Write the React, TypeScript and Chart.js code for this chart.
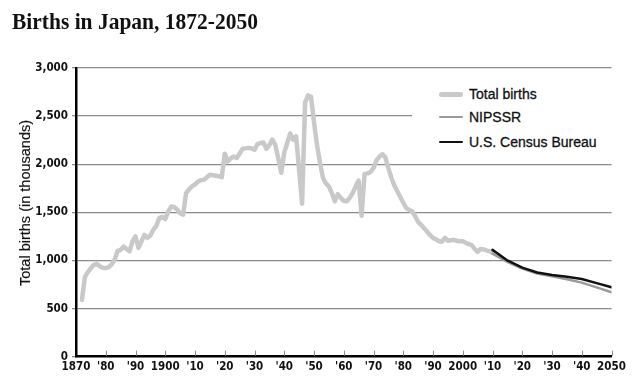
import React, { useEffect, useRef } from "react";
import { Chart, registerables } from "chart.js";

Chart.register(...registerables);

// ---- data (thousands of births) ----
const totalYears = [
  1872, 1873, 1874, 1875, 1876, 1877, 1878, 1879, 1880, 1881, 1882, 1883, 1884, 1885, 1886, 1887, 1888, 1889,
  1890, 1891, 1892, 1893, 1894, 1895, 1896, 1897, 1898, 1899, 1900, 1901, 1902, 1903, 1904, 1905, 1906, 1907,
  1908, 1909, 1910, 1911, 1912, 1913, 1914, 1915, 1916, 1917, 1918, 1919, 1920, 1921, 1922, 1923, 1924, 1925,
  1926, 1927, 1928, 1929, 1930, 1931, 1932, 1933, 1934, 1935, 1936, 1937, 1938, 1939, 1940, 1941, 1942, 1943,
  1944, 1946, 1947, 1948, 1949, 1950, 1951, 1952, 1953, 1954, 1955, 1956, 1957, 1958, 1959, 1960, 1961, 1962,
  1963, 1964, 1965, 1966, 1967, 1968, 1969, 1970, 1971, 1972, 1973, 1974, 1975, 1976, 1977, 1978, 1979, 1980,
  1981, 1982, 1983, 1984, 1985, 1986, 1987, 1988, 1989, 1990, 1991, 1992, 1993, 1994, 1995, 1996, 1997, 1998,
  1999, 2000, 2001, 2002, 2003, 2004, 2005, 2006, 2007, 2008, 2009, 2010,
];
const totalBirths = [
  590, 830, 880, 920, 955, 965, 940, 925, 920, 930, 960, 1010, 1100, 1110, 1145, 1120, 1095, 1200,
  1250, 1130, 1200, 1265, 1235, 1260, 1320, 1360, 1440, 1455, 1430, 1510, 1560, 1555, 1530, 1490, 1475, 1700,
  1740, 1770, 1790, 1820, 1835, 1840, 1865, 1890, 1885, 1880, 1875, 1865, 2110, 2030, 2060, 2080, 2065, 2110,
  2160, 2165, 2170, 2165, 2150, 2210, 2220, 2225, 2160, 2200, 2255, 2200, 2060, 1910, 2120, 2220, 2320, 2255,
  2290, 1590, 2640, 2715, 2700, 2440, 2200, 2020, 1860, 1800, 1770, 1700, 1615, 1690, 1650, 1620, 1615, 1650,
  1700, 1770, 1830, 1465, 1900, 1905, 1920, 1960, 2040, 2080, 2105, 2070, 1960, 1860, 1780, 1720, 1660, 1600,
  1545, 1525, 1510, 1460, 1400, 1370, 1335, 1300, 1265, 1235, 1220, 1200, 1195, 1235, 1205, 1210, 1215, 1205,
  1200, 1200, 1185, 1170, 1160, 1120, 1090, 1120, 1115, 1105, 1095, 1080,
];
const projYears = [2010, 2015, 2020, 2025, 2030, 2035, 2040, 2045, 2050];
const nipssrBirths = [1070, 985, 915, 865, 835, 805, 770, 720, 670];
const censusBirths = [1110, 1000, 925, 875, 850, 830, 808, 765, 722];

const xTickValues = [
  1870, 1880, 1890, 1900, 1910, 1920, 1930, 1940, 1950, 1960, 1970, 1980, 1990, 2000, 2010, 2020, 2030, 2040, 2050,
];
const xTickLabels = [
  "1870", "'80", "'90", "1900", "'10", "'20", "'30", "'40", "'50", "'60", "'70", "'80", "'90", "2000", "'10",
  "'20", "'30", "'40", "2050",
];
const yTickValues = [0, 500, 1000, 1500, 2000, 2500, 3000];
const yTickLabels = ["0", "500", "1,000", "1,500", "2,000", "2,500", "3,000"];

const seriesNames = ["Total births", "NIPSSR", "U.S. Census Bureau"];
const seriesColors = ["#c9c9c9", "#9a9a9a", "#111111"];

const TICK_FONT = "'Liberation Sans Narrow', 'DejaVu Sans Condensed', sans-serif";

const innerTicks = {
  id: "innerTicks",
  afterDatasetsDraw(chart: any) {
    const { ctx, chartArea } = chart;
    const x = chart.scales.x;
    ctx.save();
    ctx.strokeStyle = "#8a8a8a";
    ctx.lineWidth = 1;
    xTickValues.forEach((v) => {
      if (v === xTickValues[0]) return;
      const px = Math.round(x.getPixelForValue(v)) + 0.5;
      ctx.beginPath();
      ctx.moveTo(px, chartArea.bottom - 1);
      ctx.lineTo(px, chartArea.bottom - 6);
      ctx.stroke();
    });
    ctx.restore();
  },
};

export default function App() {
  const ref = useRef<HTMLCanvasElement | null>(null);

  useEffect(() => {
    document.body.style.margin = "0";
    const canvas = ref.current!;
    const chart = new Chart(canvas, {
      type: "line",
      data: {
        datasets: [
          {
            label: seriesNames[2],
            data: projYears.map((y, i) => ({ x: y, y: censusBirths[i] })),
            borderColor: seriesColors[2],
            borderWidth: 2.5,
            order: 0,
          },
          {
            label: seriesNames[1],
            data: projYears.map((y, i) => ({ x: y, y: nipssrBirths[i] })),
            borderColor: seriesColors[1],
            borderWidth: 2.5,
            order: 1,
          },
          {
            label: seriesNames[0],
            data: totalYears.map((y, i) => ({ x: y, y: totalBirths[i] })),
            borderColor: seriesColors[0],
            borderWidth: 4.5,
            order: 2,
          },
        ],
      },
      options: {
        animation: false,
        responsive: false,
        maintainAspectRatio: false,
        devicePixelRatio: 1,
        layout: { padding: { top: 68, right: 28.5, left: 0, bottom: 0 } },
        elements: {
          point: { radius: 0 },
          line: { tension: 0, borderJoinStyle: "round", borderCapStyle: "round", fill: false },
        },
        plugins: {
          legend: { display: false },
          tooltip: { enabled: false },
          title: { display: false },
        },
        scales: {
          x: {
            type: "linear",
            min: 1870,
            max: 2050,
            afterBuildTicks: (scale: any) => {
              scale.ticks = xTickValues.map((v) => ({ value: v }));
            },
            afterFit: (scale: any) => {
              scale.height = 388 - 356.7;
            },
            ticks: {
              autoSkip: false,
              maxRotation: 0,
              padding: 3,
              color: "#111",
              font: { family: TICK_FONT, size: 11.5, weight: "bold" },
              callback: (v: any) => {
                const i = xTickValues.indexOf(Number(v));
                return i >= 0 ? xTickLabels[i] : "";
              },
            },
            grid: { display: false, drawTicks: false },
            border: { display: true, color: "#000", width: 2.5 },
          },
          y: {
            type: "linear",
            min: 0,
            max: 3000,
            afterBuildTicks: (scale: any) => {
              scale.ticks = yTickValues.map((v) => ({ value: v }));
            },
            afterFit: (scale: any) => {
              scale.width = 76;
            },
            ticks: {
              padding: 4,
              color: "#111",
              font: { family: TICK_FONT, size: 11.5, weight: "bold" },
              callback: (v: any) => {
                const i = yTickValues.indexOf(Number(v));
                return i >= 0 ? yTickLabels[i] : "";
              },
            },
            grid: {
              color: (c: any) => (c.tick && c.tick.value === 0 ? "rgba(0,0,0,0)" : "#8c8c8c"),
              lineWidth: 1.3,
              drawTicks: true,
              tickLength: 4,
              tickColor: "#8c8c8c",
            },
            border: { display: true, color: "#000", width: 2.5 },
          },
        },
      },
      plugins: [innerTicks],
    } as any);
    return () => chart.destroy();
  }, []);

  const legendRow = (i: number, top: number, lw: number) => (
    <div key={i} style={{ position: "absolute", left: 27, top, height: 20, display: "flex", alignItems: "center" }}>
      <div style={{ width: 24, height: lw, background: seriesColors[i], borderRadius: lw / 2 }} />
      <span
        style={{
          marginLeft: 6,
          fontFamily: "'Liberation Sans', Arial, sans-serif",
          fontSize: 14,
          color: "#111",
          whiteSpace: "nowrap",
          WebkitTextStroke: "0.3px #111",
        }}
      >
        {seriesNames[i]}
      </span>
    </div>
  );

  return (
    <div style={{ position: "absolute", left: 0, top: 0, width: 640, height: 388, background: "#fff" }}>
      <canvas ref={ref} width={640} height={388} style={{ position: "absolute", left: 0, top: 0, width: 640, height: 388 }} />
      <div
        style={{
          position: "absolute",
          left: 12,
          top: 8,
          fontFamily: "'Liberation Serif', 'Times New Roman', serif",
          fontWeight: "bold",
          fontSize: 24,
          color: "#111",
          whiteSpace: "nowrap",
          transform: "scaleX(0.895)",
          transformOrigin: "left center",
        }}
      >
        Births in Japan, 1872-2050
      </div>
      <div
        style={{
          position: "absolute",
          left: 25,
          top: 203,
          transform: "translate(-50%, -50%) rotate(-90deg)",
          fontFamily: "'Liberation Sans', Arial, sans-serif",
          fontSize: 14.5,
          color: "#111",
          whiteSpace: "nowrap",
          WebkitTextStroke: "0.2px #111",
        }}
      >
        Total births (in thousands)
      </div>
      <div style={{ position: "absolute", left: 412, top: 82, width: 200, height: 72, background: "#fff" }}>
        {legendRow(0, 2, 5)}
        {legendRow(1, 25, 2.5)}
        {legendRow(2, 50, 2.5)}
      </div>
    </div>
  );
}
